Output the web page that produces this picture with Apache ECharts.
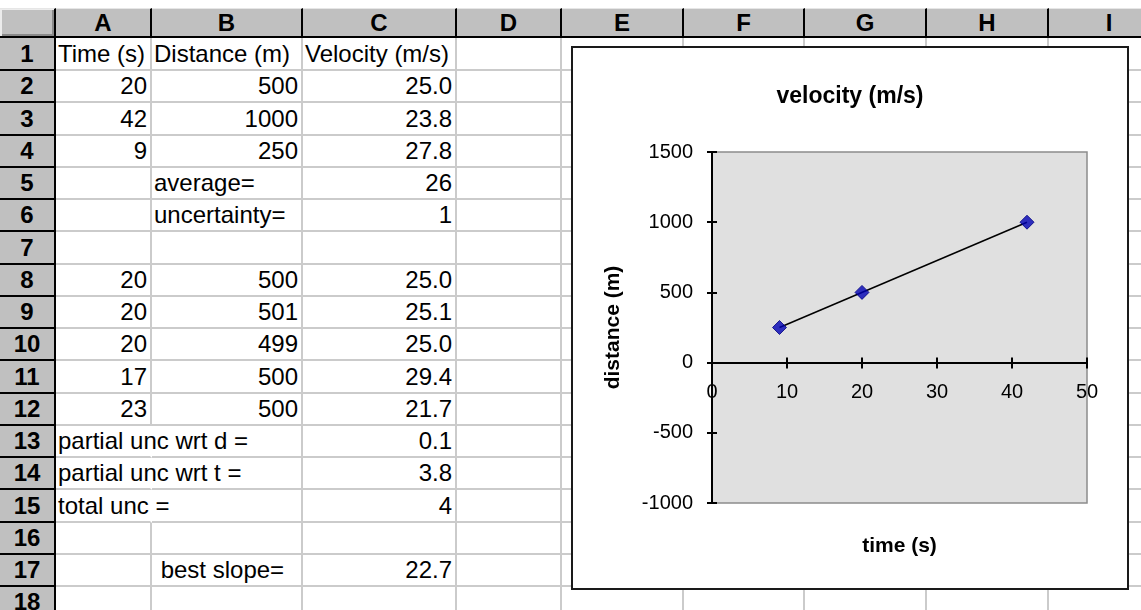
<!DOCTYPE html>
<html lang="en">
<head>
<meta charset="utf-8">
<script src="https://cdn.jsdelivr.net/npm/echarts@6/dist/echarts.min.js"></script>
<style>
    body {
        margin: 0;
        background: #fff;
        overflow: hidden;
    }

    #sheet {
        position: absolute;
        left: 0;
        top: 0;
        width: 1141px;
        height: 610px;
        overflow: hidden;
        font-family: 'Liberation Sans', Arial, sans-serif;
        font-size: 24px;
        color: #000;
    }

    .cell {
        position: absolute;
        box-sizing: border-box;
        border-right: 2px solid #cbcbcb;
        border-bottom: 2px solid #cbcbcb;
        white-space: pre;
    }

    .cell.r {
        text-align: right;
        padding-right: 3px;
    }

    .cell.l {
        text-align: left;
        padding-left: 2px;
    }

    .hdr {
        position: absolute;
        box-sizing: border-box;
        background: #c0c0c0;
        border-right: 2px solid #000;
        border-bottom: 2px solid #000;
        border-top: 1px solid #e6e6e6;
        font-weight: bold;
        text-align: center;
    }

    #chart {
        position: absolute;
        left: 571px;
        top: 46px;
        width: 558px;
        height: 544px;
        box-sizing: border-box;
        border: 2px solid #1a1a1a;
        background: #fff;
        z-index: 5;
    }
</style>
</head>
<body>

<div id="sheet"></div>
<div id="chart"></div>

<script>
    // ---- data ----
    var timeS = [20, 42, 9];
    var distM = [500, 1000, 250];
    var velocity = ['25.0', '23.8', '27.8'];

    var trialTime = [20, 20, 20, 17, 23];
    var trialDist = [500, 501, 499, 500, 500];
    var trialVel = ['25.0', '25.1', '25.0', '29.4', '21.7'];

    var headings = ['Time (s)', 'Distance (m)', 'Velocity (m/s)'];
    var summaryLabels = ['average=', 'uncertainty='];
    var summaryValues = ['26', '1'];
    var uncLabels = ['partial unc wrt d =', 'partial unc wrt t =', 'total unc ='];
    var uncValues = ['0.1', '3.8', '4'];
    var slopeLabel = ' best slope=';
    var slopeValue = '22.7';

    // trend line ends
    var trendTime = [9, 42];
    var trendDist = [250, 1000];

    var colLetters = ['A', 'B', 'C', 'D', 'E', 'F', 'G', 'H', 'I'];
    var rowCount = 18;

    // ---- sheet layout ----
    var colEdges = [0, 56, 152, 303, 457, 562, 684, 805, 927, 1049, 1171];
    var headTop = 8, headBottom = 38;

    function rowTop(r) {
        return r === 1 ? headBottom : Math.round(71 + (r - 2) * 32.25);
    }

    function rowBottom(r) {
        return Math.round(71 + (r - 1) * 32.25);
    }

    // cells[row] = {col: [text, align]}
    var cells = {};
    function put(r, c, text, align) {
        cells[r] = cells[r] || {};
        cells[r][c] = [String(text), align];
    }

    headings.forEach(function (h, i) { put(1, i + 1, h, 'l'); });
    for (var i = 0; i < timeS.length; i++) {
        put(2 + i, 1, timeS[i], 'r');
        put(2 + i, 2, distM[i], 'r');
        put(2 + i, 3, velocity[i], 'r');
    }
    summaryLabels.forEach(function (s, i) {
        put(5 + i, 2, s, 'l');
        put(5 + i, 3, summaryValues[i], 'r');
    });
    for (var j = 0; j < trialTime.length; j++) {
        put(8 + j, 1, trialTime[j], 'r');
        put(8 + j, 2, trialDist[j], 'r');
        put(8 + j, 3, trialVel[j], 'r');
    }
    uncLabels.forEach(function (s, i) {
        put(13 + i, 1, s, 'l');
        put(13 + i, 3, uncValues[i], 'r');
    });
    put(17, 2, slopeLabel, 'l');
    put(17, 3, slopeValue, 'r');

    var sheet = document.getElementById('sheet');

    function box(cls, x, y, w, h, text) {
        var el = document.createElement('div');
        el.className = cls;
        el.style.left = x + 'px';
        el.style.top = y + 'px';
        el.style.width = w + 'px';
        el.style.height = h + 'px';
        if (text != null) {
            el.textContent = text;
        }
        sheet.appendChild(el);
        return el;
    }

    // corner + column headings
    var corner = box('hdr', 0, headTop, colEdges[1], headBottom - headTop, '');
    corner.style.boxShadow = 'inset 2px 1px 0 #ececec, inset -2px -2px 0 #8a8a8a';
    for (var c = 1; c < colEdges.length - 1; c++) {
        var hd = box('hdr', colEdges[c], headTop, colEdges[c + 1] - colEdges[c], headBottom - headTop, colLetters[c - 1]);
        hd.style.lineHeight = (headBottom - headTop - 3) + 'px';
    }

    for (var r = 1; r <= rowCount; r++) {
        var rowY = rowTop(r), rowH = rowBottom(r) - rowY;
        var rh = box('hdr', 0, rowY, colEdges[1], rowH, String(r));
        rh.style.borderTop = 'none';
        rh.style.lineHeight = (rowH - 2) + 'px';
        for (var c2 = 1; c2 < colEdges.length - 1; c2++) {
            var info = (cells[r] || {})[c2];
            var cellEl = box('cell ' + (info ? info[1] : ''), colEdges[c2], rowY, colEdges[c2 + 1] - colEdges[c2], rowH, info ? info[0] : '');
            cellEl.style.lineHeight = (rowH - 2) + 'px';
            // text running into an empty neighbour hides the grid line
            if (info && info[1] === 'l' && r >= 13 && r <= 15) {
                cellEl.style.borderRightColor = 'transparent';
            }
        }
    }

    // ---- chart ----
    var font = "'Liberation Sans', Arial, sans-serif";
    var points = timeS.map(function (t, i) { return [t, distM[i]]; });
    var trend = trendTime.map(function (t, i) { return [t, trendDist[i]]; });
    var plain = function (v) { return String(v); };

    // plot is 351px tall for -1000..1500; the time axis crosses at distance 0
    var plotH = 351;
    var zeroOffset = -plotH * 1000 / 2500;

    var option = {
        animation: false,
        title: {
            text: 'velocity (m/s)',
            left: 'center',
            top: 37,
            padding: 0,
            textStyle: { fontFamily: font, fontSize: 23, fontWeight: 'bold', color: '#000' }
        },
        grid: {
            left: 139,
            top: 104,
            right: 40,
            bottom: 85,
            containLabel: false,
            outerBoundsMode: 'none',
            show: true,
            backgroundColor: '#e0e0e0',
            borderColor: '#8c8c8c',
            borderWidth: 1.5
        },
        xAxis: [{
            type: 'value',
            min: 0,
            max: 50,
            interval: 10,
            position: 'bottom',
            offset: zeroOffset,
            name: 'time (s)',
            nameLocation: 'middle',
            nameGap: 173,
            nameTextStyle: { fontFamily: font, fontSize: 21, fontWeight: 'bold', color: '#000' },
            axisLine: { onZero: false, lineStyle: { color: '#000', width: 2 } },
            axisTick: { show: true, length: 6, lineStyle: { color: '#000', width: 2 } },
            axisLabel: { margin: 20, fontFamily: font, fontSize: 20, color: '#000', formatter: plain },
            splitLine: { show: false }
        }, {
            type: 'value',
            min: 0,
            max: 50,
            interval: 10,
            position: 'bottom',
            offset: zeroOffset,
            axisLine: { show: false, onZero: false },
            axisTick: { show: true, inside: true, length: 5, lineStyle: { color: '#000', width: 2 } },
            axisLabel: { show: false },
            splitLine: { show: false }
        }],
        yAxis: [{
            type: 'value',
            min: -1000,
            max: 1500,
            interval: 500,
            name: 'distance (m)',
            nameLocation: 'middle',
            nameGap: 88,
            nameTextStyle: { fontFamily: font, fontSize: 21, fontWeight: 'bold', color: '#000' },
            axisLine: { show: true, onZero: false, lineStyle: { color: '#000', width: 2 } },
            axisTick: { show: true, length: 5, lineStyle: { color: '#000', width: 2 } },
            axisLabel: { margin: 19, fontFamily: font, fontSize: 20, color: '#000', formatter: plain },
            splitLine: { show: false }
        }, {
            type: 'value',
            min: -1000,
            max: 1500,
            interval: 500,
            position: 'left',
            axisLine: { show: false, onZero: false },
            axisTick: { show: true, inside: true, length: 5, lineStyle: { color: '#000', width: 2 } },
            axisLabel: { show: false },
            splitLine: { show: false }
        }],
        series: [{
            name: 'trend',
            type: 'line',
            data: trend,
            showSymbol: false,
            symbol: 'none',
            lineStyle: { color: '#000', width: 1.5 },
            z: 2
        }, {
            name: 'distance',
            type: 'scatter',
            data: points,
            symbol: 'diamond',
            symbolSize: [14, 14],
            itemStyle: { color: '#0000b4', borderColor: '#000080', borderWidth: 1 },
            z: 3
        }]
    };

    var myChart = echarts.init(document.getElementById('chart'));
    myChart.setOption(option);
</script>

</body>
</html>
